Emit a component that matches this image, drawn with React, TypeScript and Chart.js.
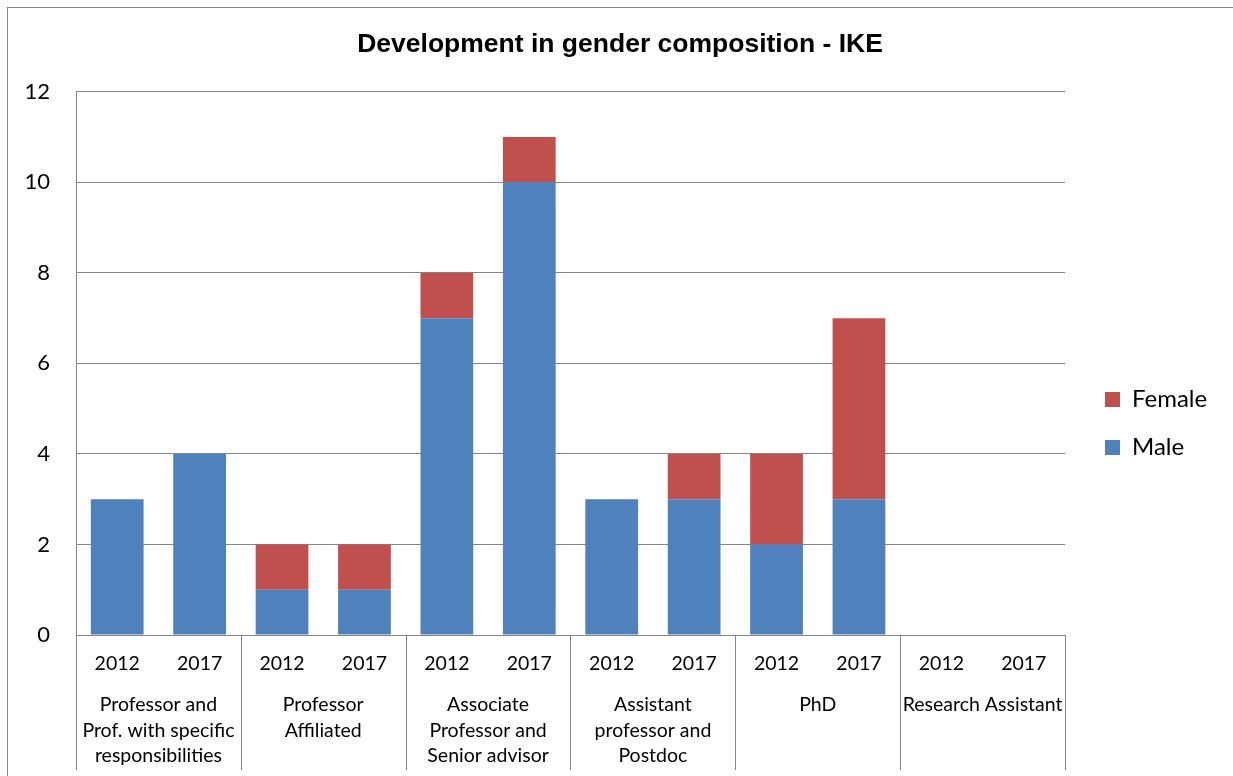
import React, { useEffect, useRef } from 'react';
import { Chart, registerables } from 'chart.js';

Chart.register(...registerables);

const chartTitle = 'Development in gender composition - IKE';
const years = ['2012', '2017', '2012', '2017', '2012', '2017', '2012', '2017', '2012', '2017', '2012', '2017'];
const groupLabels: (string | string[])[] = [
  ['Professor and', 'Prof. with specific', 'responsibilities'],
  ['Professor', 'Affiliated'],
  ['Associate', 'Professor and', 'Senior advisor'],
  ['Assistant', 'professor and', 'Postdoc'],
  'PhD',
  'Research Assistant',
];
const maleValues = [3, 4, 1, 1, 7, 10, 3, 3, 2, 3, 0, 0];
const femaleValues = [0, 0, 1, 1, 1, 1, 0, 1, 2, 4, 0, 0];
const seriesNames = ['Male', 'Female'];
const seriesColors = ['#4F81BD', '#C0504D'];
const yMin = 0;
const yMax = 12;
const yStep = 2;

const GRID = '#868686';
const FONT = 'Lato';

const dividerPlugin = {
  id: 'groupDividers',
  afterDraw(chart: any) {
    const x = chart.scales.x;
    const ctx = chart.ctx;
    const n = x.ticks.length;
    const half = (x.getPixelForValue(1) - x.getPixelForValue(0)) / 2;
    ctx.save();
    ctx.strokeStyle = GRID;
    ctx.lineWidth = 1;
    for (let i = 0; i <= n; i += 2) {
      const px = Math.round(i < n ? x.getPixelForValue(i) - half : x.getPixelForValue(n - 1) + half) + 0.5;
      ctx.beginPath();
      ctx.moveTo(px, chart.chartArea.bottom);
      ctx.lineTo(px, 770);
      ctx.stroke();
    }
    ctx.restore();
  },
};

// place the built-in legend and title as in the reference (title centred on the chart frame)
const placementPlugin = {
  id: 'placement',
  afterLayout(chart: any) {
    const lg = chart.legend;
    if (lg) {
      const left = chart.chartArea.right + 16;
      const dy = 363.5 - lg.top;
      lg.left = left;
      lg.width = 160;
      lg.right = left + 160;
      lg.top += dy;
      lg.bottom += dy;
    }
    const tb = chart.titleBlock;
    if (tb) {
      tb.left = 7;
      tb.right = chart.width;
      tb.width = tb.right - tb.left;
    }
  },
};

export default function App() {
  const ref = useRef<HTMLCanvasElement>(null);

  useEffect(() => {
    if (!ref.current) return;
    const chart = new Chart(ref.current, {
      type: 'bar',
      data: {
        labels: years,
        datasets: [
          { label: seriesNames[0], data: maleValues, backgroundColor: seriesColors[0], barPercentage: 0.64, categoryPercentage: 1 },
          { label: seriesNames[1], data: femaleValues, backgroundColor: seriesColors[1], barPercentage: 0.64, categoryPercentage: 1 },
        ],
      },
      options: {
        responsive: false,
        animation: false,
        devicePixelRatio: 1,
        layout: { padding: { left: 0, right: 48, top: 0, bottom: 0 } },
        plugins: {
          legend: {
            display: true,
            position: 'right',
            align: 'start',
            reverse: true,
            maxWidth: 120,
            labels: {
              boxWidth: 15,
              boxHeight: 15,
              padding: 24,
              color: '#000',
              font: { family: FONT, size: 24 },
            },
          },
          tooltip: { enabled: false },
          title: {
            display: true,
            text: chartTitle,
            color: '#000',
            font: { family: 'Liberation Sans', size: 26.5, weight: 'bold', lineHeight: 1.2 },
            padding: { top: 29, bottom: 31 },
          },
        },
        scales: {
          x: {
            stacked: true,
            weight: 0,
            grid: { display: false },
            border: { display: true, color: GRID, width: 1 },
            ticks: { color: '#000', font: { family: FONT, size: 19.5 }, padding: 9, maxRotation: 0, autoSkip: false },
            afterFit(s: any) { s.height = 45; },
          },
          x2: {
            type: 'category',
            position: 'bottom',
            labels: groupLabels as any,
            offset: true,
            weight: 1,
            grid: { display: false },
            border: { display: false },
            ticks: { color: '#000', font: { family: FONT, size: 19.5, lineHeight: 1.31 }, padding: 4, maxRotation: 0, autoSkip: false },
            afterFit(s: any) { s.height = 96; },
          },
          y: {
            stacked: true,
            min: yMin,
            max: yMax,
            grid: { color: GRID, lineWidth: 1, drawTicks: false },
            border: { display: true, color: GRID, width: 1 },
            ticks: { stepSize: yStep, color: '#000', font: { family: FONT, size: 22 }, padding: 26 },
            afterFit(s: any) { s.width = 76; },
          },
        },
      },
      plugins: [dividerPlugin, placementPlugin],
    });
    return () => chart.destroy();
  }, []);

  return (
    <div style={{ position: 'absolute', left: 0, top: 0, width: 1233, height: 776, overflow: 'hidden', background: '#fff' }}>
      <div style={{ position: 'absolute', left: 7, top: 7, width: 1400, height: 900, border: `1px solid ${GRID}` }} />
      <canvas ref={ref} width={1233} height={776} style={{ position: 'absolute', left: 0, top: 0, display: 'block' }} />
    </div>
  );
}
